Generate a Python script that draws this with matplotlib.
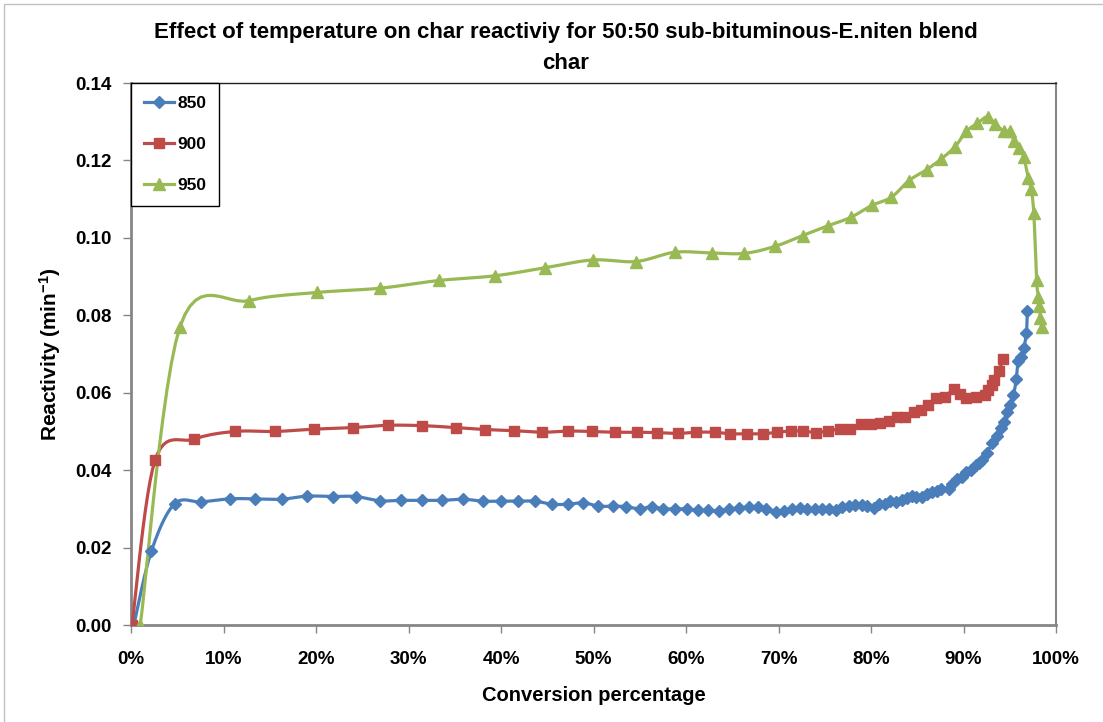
import numpy as np
import matplotlib
matplotlib.use("Agg")
import matplotlib.pyplot as plt

# Data (conversion %, reactivity 1/min)
conv_850 = [0.3, 2.2, 4.7, 7.6, 10.7, 13.4, 16.3, 19.0, 21.8, 24.3, 26.9, 29.2, 31.5, 33.6,
            35.9, 38.0, 40.0, 41.8, 43.7, 45.5, 47.2, 48.9, 50.5, 52.1, 53.5, 55.0, 56.3,
            57.5, 58.8, 60.1, 61.3, 62.4, 63.6, 64.6, 65.7, 66.8, 67.8, 68.7, 69.7, 70.6,
            71.5, 72.3, 73.1, 73.9, 74.7, 75.5, 76.2, 76.9, 77.6, 78.3, 79.0, 79.6, 80.3,
            80.9, 81.5, 82.1, 82.7, 83.3, 83.9, 84.4, 84.9, 85.5, 86.0, 86.6, 87.1, 87.6,
            88.4, 88.8, 89.3, 89.8, 90.3, 90.8, 91.3, 91.7, 92.0, 92.5, 93.1, 93.6, 94.0,
            94.4, 94.7, 95.0, 95.4, 95.7, 95.9, 96.2, 96.5, 96.8, 96.9]
react_850 = [0.0, 0.0191, 0.0313, 0.0318, 0.0326, 0.0326, 0.0325, 0.0333, 0.0332, 0.0332,
             0.0321, 0.0322, 0.0322, 0.0322, 0.0325, 0.0320, 0.0320, 0.0320, 0.0320, 0.0312,
             0.0312, 0.0316, 0.0307, 0.0307, 0.0306, 0.0300, 0.0306, 0.0300, 0.0300, 0.0300,
             0.0296, 0.0296, 0.0295, 0.0299, 0.0303, 0.0305, 0.0305, 0.0301, 0.0293, 0.0295,
             0.0301, 0.0303, 0.0299, 0.0299, 0.0299, 0.0300, 0.0297, 0.0305, 0.0307, 0.0309,
             0.0309, 0.0307, 0.0303, 0.0312, 0.0313, 0.0320, 0.0319, 0.0323, 0.0327, 0.0333,
             0.0332, 0.0332, 0.0338, 0.0343, 0.0346, 0.0351, 0.0351, 0.0364, 0.0376, 0.0383,
             0.0394, 0.0401, 0.0413, 0.0418, 0.0426, 0.0444, 0.0469, 0.0487, 0.0508, 0.0525,
             0.0551, 0.0568, 0.0594, 0.0635, 0.0683, 0.0693, 0.0715, 0.0754, 0.0810]

conv_900 = [0.1, 2.6, 6.8, 11.2, 15.6, 19.8, 24.0, 27.8, 31.5, 35.1, 38.3, 41.4, 44.4, 47.2,
            49.8, 52.3, 54.7, 56.9, 59.1, 61.1, 63.1, 64.8, 66.6, 68.3, 69.8, 71.3, 72.7,
            74.1, 75.4, 76.6, 77.7, 78.9, 80.0, 81.0, 81.9, 82.8, 83.7, 84.6, 85.4, 86.2,
            87.0, 88.0, 89.0, 89.6, 90.3, 91.4, 92.3, 92.7, 93.1, 93.3, 93.8, 94.3]
react_900 = [0.0, 0.0426, 0.0480, 0.0500, 0.0500, 0.0506, 0.0510, 0.0516, 0.0515, 0.0510,
             0.0505, 0.0502, 0.0498, 0.0501, 0.0500, 0.0498, 0.0498, 0.0497, 0.0495, 0.0498,
             0.0498, 0.0494, 0.0494, 0.0494, 0.0498, 0.0501, 0.0501, 0.0497, 0.0502, 0.0506,
             0.0506, 0.0519, 0.0519, 0.0523, 0.0528, 0.0537, 0.0538, 0.0549, 0.0556, 0.0568,
             0.0586, 0.0590, 0.0610, 0.0597, 0.0586, 0.0588, 0.0594, 0.0607, 0.0620, 0.0633,
             0.0656, 0.0687]

conv_950 = [1.0, 5.3, 12.8, 20.1, 26.9, 33.3, 39.3, 44.8, 49.9, 54.6, 58.8, 62.8, 66.3,
            69.6, 72.6, 75.3, 77.8, 80.1, 82.2, 84.1, 86.0, 87.6, 89.1, 90.3, 91.5, 92.6,
            93.4, 94.4, 95.0, 95.5, 96.0, 96.5, 97.0, 97.3, 97.6, 97.9, 98.1, 98.2, 98.3, 98.5]
react_950 = [0.0, 0.0771, 0.0838, 0.0859, 0.0870, 0.0890, 0.0902, 0.0923, 0.0943, 0.0939,
             0.0963, 0.0961, 0.0960, 0.0978, 0.1006, 0.1031, 0.1053, 0.1084, 0.1105, 0.1148,
             0.1176, 0.1204, 0.1236, 0.1275, 0.1296, 0.1313, 0.1294, 0.1276, 0.1275, 0.1249,
             0.1232, 0.1210, 0.1154, 0.1127, 0.1064, 0.0891, 0.0848, 0.0824, 0.0793, 0.0771]

labels = ["850", "900", "950"]
colors = ["#4a7ebb", "#be4b48", "#98b954"]
markers = ["D", "s", "^"]
msizes = [6, 7, 8]

x_ticks = np.arange(0, 101, 10)
y_ticks = np.arange(0, 0.141, 0.02)

plt.rcParams["font.family"] = ["Liberation Sans", "DejaVu Sans"]
plt.rcParams["font.weight"] = "bold"
plt.rcParams["mathtext.fontset"] = "custom"
plt.rcParams["mathtext.rm"] = "Liberation Sans:bold"
plt.rcParams["mathtext.bf"] = "Liberation Sans:bold"
plt.rcParams["mathtext.default"] = "bf"


def smooth(x, y, n=12):
    # Catmull-Rom style smoothing, similar to Excel's smoothed lines
    x = np.asarray(x, float)
    y = np.asarray(y, float)
    px = np.concatenate([[x[0]], x, [x[-1]]])
    py = np.concatenate([[y[0]], y, [y[-1]]])
    xs, ys = [], []
    t = np.linspace(0, 1, n, endpoint=False)
    for i in range(1, len(px) - 2):
        p0x, p1x, p2x, p3x = px[i - 1], px[i], px[i + 1], px[i + 2]
        p0y, p1y, p2y, p3y = py[i - 1], py[i], py[i + 1], py[i + 2]
        c1x, c1y = p1x + (p2x - p0x) / 6, p1y + (p2y - p0y) / 6
        c2x, c2y = p2x - (p3x - p1x) / 6, p2y - (p3y - p1y) / 6
        bx = (1 - t) ** 3 * p1x + 3 * (1 - t) ** 2 * t * c1x + 3 * (1 - t) * t ** 2 * c2x + t ** 3 * p2x
        by = (1 - t) ** 3 * p1y + 3 * (1 - t) ** 2 * t * c1y + 3 * (1 - t) * t ** 2 * c2y + t ** 3 * p2y
        xs.extend(bx)
        ys.extend(by)
    xs.append(x[-1])
    ys.append(y[-1])
    return np.array(xs), np.array(ys)


fig = plt.figure(figsize=(11.03, 7.22), dpi=100)
ax = fig.add_axes([0.1188, 0.1343, 0.8386, 0.7507])

series = [(conv_850, react_850), (conv_900, react_900), (conv_950, react_950)]
for (cx, cy), lab, col, mk, ms in zip(series, labels, colors, markers, msizes):
    sx, sy = smooth(cx, cy)
    ax.plot(sx, sy, color=col, lw=2.3, zorder=3)
    ax.plot(cx, cy, linestyle="none", marker=mk, ms=ms, color=col, zorder=4)
    ax.plot([], [], color=col, lw=2.3, marker=mk, ms=ms, label=lab)

ax.set_xlim(0, 100)
ax.set_ylim(0, 0.14)
ax.set_xticks(x_ticks)
ax.set_xticklabels([f"{v}%" for v in x_ticks])
ax.set_yticks(y_ticks)
ax.set_yticklabels([f"{v:.2f}" for v in y_ticks])
ax.tick_params(axis="both", direction="out", length=6, width=1, color="#868686",
               labelsize=13.5)
ax.tick_params(axis="x", pad=13)
ax.tick_params(axis="y", pad=8)
for lab in ax.get_xticklabels() + ax.get_yticklabels():
    lab.set_fontweight("bold")

for side in ["left", "bottom"]:
    ax.spines[side].set_color("#868686")
    ax.spines[side].set_linewidth(2)
ax.spines["right"].set_color("#868686")
ax.spines["right"].set_linewidth(1.5)
ax.spines["top"].set_color("#222222")
ax.spines["top"].set_linewidth(1)

ax.set_xlabel("Conversion percentage", fontsize=14.5, fontweight="bold", labelpad=13)
ax.set_ylabel("Reactivity (min$^{-1}$)", fontsize=15, fontweight="bold", labelpad=9)
fig.text(0.513, 0.955, "Effect of temperature on char reactiviy for 50:50 sub-bituminous-E.niten blend",
         ha="center", va="center", fontsize=16, fontweight="bold")
fig.text(0.513, 0.912, "char", ha="center", va="center", fontsize=16, fontweight="bold")

leg = ax.legend(loc="upper left", bbox_to_anchor=(0, 1), borderaxespad=0, fancybox=False,
                edgecolor="black", framealpha=1, fontsize=12.5, labelspacing=1.48,
                handlelength=1.7, handletextpad=0.2, borderpad=0.76)
leg.get_frame().set_linewidth(1)
for t in leg.get_texts():
    t.set_fontweight("bold")

# faint chart-area border like the spreadsheet export
fig.patches.append(plt.Rectangle((0.004, -0.01), 1.1, 1.004, transform=fig.transFigure,
                                 fill=False, edgecolor="#c0c0c0", lw=1))

fig.savefig("out.png", dpi=100)
